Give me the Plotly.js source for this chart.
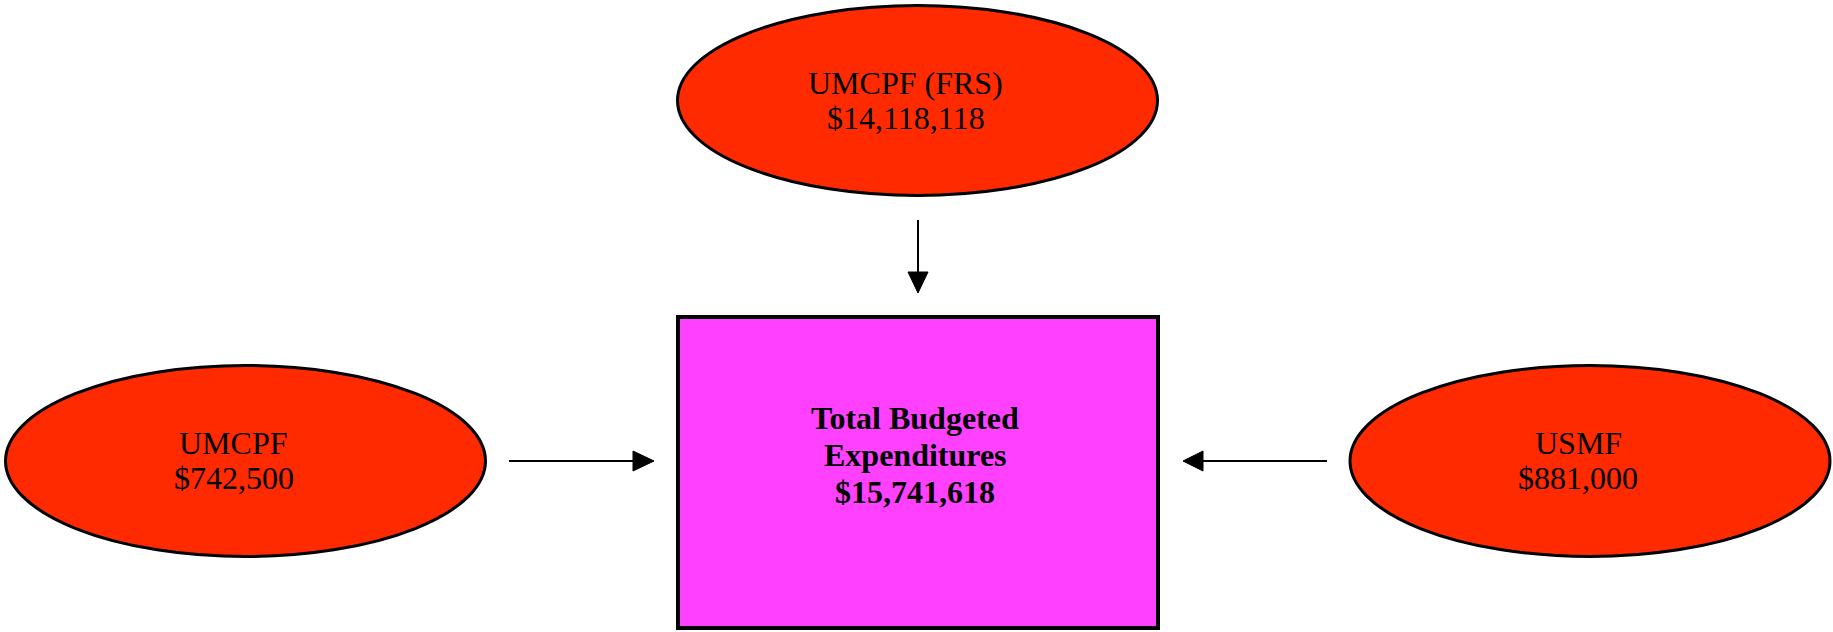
<!DOCTYPE html>
<html>
<head>
<meta charset="utf-8">
<script src="https://cdn.plot.ly/plotly-3.0.1.min.js"></script>
<style>html,body{margin:0;padding:0;background:#fff;overflow:hidden}</style>
</head>
<body>
<div id="chart" style="width:1833px;height:632px"></div>
<script>
// ---- data ----
const sourceNames = ["UMCPF (FRS)", "UMCPF", "USMF"];
const sourceValues = [14118118, 742500, 881000];
const totalLabel = ["Total Budgeted", "Expenditures"];
const totalValue = 15741618;

// ---- layout constants (positions in pixels) ----
const W = 1833, H = 632;
const nodes = [
  {cx: 917.5, cy: 100.5, rx: 240, ry: 95},   // top
  {cx: 245.5, cy: 461, rx: 240, ry: 95.5},   // left
  {cx: 1590, cy: 461, rx: 240, ry: 95.5}     // right
];
const box = {x0: 678, y0: 317, x1: 1158, y1: 628};
const ellipseFill = "#FF2A00";
const boxFill = "#FF40FF";

function money(v) { return "$" + v.toLocaleString("en-US"); }

const shapes = [];
const annotations = [];
const serif = "Liberation Serif, Times New Roman, serif";

nodes.forEach((n, i) => {
  shapes.push({type: "circle", xref: "x", yref: "y",
    x0: n.cx - n.rx, x1: n.cx + n.rx, y0: n.cy - n.ry, y1: n.cy + n.ry,
    fillcolor: ellipseFill, line: {color: "#000", width: 3}, layer: "below"});
  const tx = n.cx - 12;
  annotations.push({x: tx, y: n.cy - 18, xref: "x", yref: "y", text: sourceNames[i],
    showarrow: false, xanchor: "center", yanchor: "middle",
    font: {family: serif, size: 32, color: "#000"}});
  annotations.push({x: tx, y: n.cy + 17, xref: "x", yref: "y", text: money(sourceValues[i]),
    showarrow: false, xanchor: "center", yanchor: "middle",
    font: {family: serif, size: 32, color: "#000"}});
});

shapes.push({type: "rect", xref: "x", yref: "y", x0: box.x0, x1: box.x1, y0: box.y0, y1: box.y1,
  fillcolor: boxFill, line: {color: "#000", width: 4}, layer: "below"});

const boxLines = totalLabel.concat([money(totalValue)]);
const boxCx = (box.x0 + box.x1) / 2 - 3;
boxLines.forEach((t, k) => {
  annotations.push({x: boxCx, y: 418 + 37 * k, xref: "x", yref: "y", text: "<b>" + t + "</b>",
    showarrow: false, xanchor: "center", yanchor: "middle",
    font: {family: serif, size: 32, color: "#000"}});
});

// arrows: line + triangular head
function arrow(x0, y0, x1, y1, headLen, headW) {
  const dx = x1 - x0, dy = y1 - y0, L = Math.hypot(dx, dy);
  const ux = dx / L, uy = dy / L;
  const bx = x1 - ux * headLen, by = y1 - uy * headLen;
  const px = -uy * headW / 2, py = ux * headW / 2;
  shapes.push({type: "line", xref: "x", yref: "y", x0: x0, y0: y0, x1: bx + ux, y1: by + uy,
    line: {color: "#000", width: 2}});
  shapes.push({type: "path", xref: "x", yref: "y",
    path: `M ${x1} ${y1} L ${bx + px} ${by + py} L ${bx - px} ${by - py} Z`,
    fillcolor: "#000", line: {color: "#000", width: 1}});
}
arrow(918, 220, 918, 293, 21, 20);
arrow(509, 461, 654, 461, 21, 20);
arrow(1327, 461, 1183, 461, 20, 20);

const layout = {
  width: W, height: H,
  margin: {l: 0, r: 0, t: 0, b: 0},
  paper_bgcolor: "#fff", plot_bgcolor: "#fff",
  showlegend: false,
  xaxis: {range: [0, W], visible: false, fixedrange: true},
  yaxis: {range: [H, 0], visible: false, fixedrange: true},
  shapes: shapes,
  annotations: annotations
};

Plotly.newPlot("chart", [{x: [], y: [], type: "scatter", mode: "markers", hoverinfo: "skip"}], layout,
  {displayModeBar: false, staticPlot: true});
</script>
</body>
</html>
